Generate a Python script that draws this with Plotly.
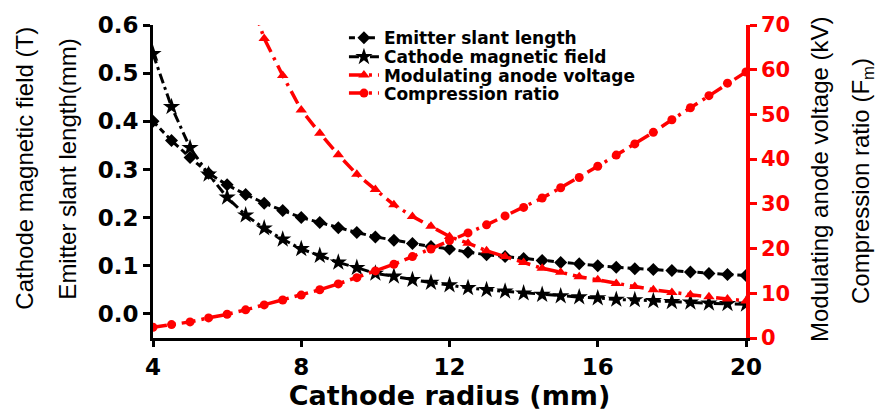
import plotly.graph_objects as go

# Cathode radius (mm)
radius = [4.0, 4.5, 5.0, 5.5, 6.0, 6.5, 7.0, 7.5, 8.0, 8.5, 9.0, 9.5, 10.0, 10.5,
          11.0, 11.5, 12.0, 12.5, 13.0, 13.5, 14.0, 14.5, 15.0, 15.5, 16.0, 16.5,
          17.0, 17.5, 18.0, 18.5, 19.0, 19.5, 20.0]

# Emitter slant length (mm)
slant_length = [0.400, 0.360, 0.325, 0.292, 0.268, 0.248, 0.230, 0.215, 0.200, 0.190,
                0.179, 0.169, 0.160, 0.153, 0.146, 0.140, 0.135, 0.128, 0.123, 0.119,
                0.115, 0.111, 0.107, 0.104, 0.100, 0.097, 0.094, 0.092, 0.090, 0.087,
                0.084, 0.082, 0.080]

# Cathode magnetic field (T)
magnetic_field = [0.540, 0.430, 0.345, 0.290, 0.242, 0.205, 0.178, 0.155, 0.135, 0.121,
                  0.107, 0.096, 0.084, 0.078, 0.071, 0.065, 0.060, 0.054, 0.050, 0.047,
                  0.043, 0.040, 0.037, 0.035, 0.033, 0.030, 0.029, 0.027, 0.025, 0.024,
                  0.022, 0.021, 0.020]

# Modulating anode voltage (kV), from 6.5 mm upward
radius_voltage = radius[5:]
anode_voltage = [79.0, 67.0, 58.7, 51.0, 45.8, 41.0, 36.6, 33.2, 29.8, 27.2, 25.0, 22.7,
                 21.2, 19.5, 18.2, 16.9, 15.6, 14.7, 13.7, 13.0, 12.2, 11.5, 10.8, 10.2,
                 9.7, 9.2, 8.7, 8.3]

# Compression ratio (Fm)
compression = [2.4, 3.0, 3.6, 4.5, 5.3, 6.3, 7.4, 8.5, 9.6, 10.8, 12.1, 13.5, 15.0, 16.5,
               18.2, 19.9, 21.8, 23.5, 25.3, 27.3, 29.2, 31.3, 33.6, 35.9, 38.4, 40.9,
               43.4, 46.0, 48.8, 51.5, 54.2, 57.0, 59.5]

x_ticks = [4, 8, 12, 16, 20]
left_ticks = [0.0, 0.1, 0.2, 0.3, 0.4, 0.5, 0.6]
right_ticks = [0, 10, 20, 30, 40, 50, 60, 70]

RED = "#ff0000"
BOLD = "DejaVu Sans"
PLAIN = "Liberation Sans, Arial, sans-serif"

fig = go.Figure()

fig.add_trace(go.Scatter(
    x=radius, y=slant_length, name="Emitter slant length", mode="lines+markers",
    line=dict(color="black", width=3, dash="6px,4px"),
    marker=dict(symbol="diamond", size=10, color="black"),
    yaxis="y", legend="legend",
))
fig.add_trace(go.Scatter(
    x=radius, y=magnetic_field, name="Cathode magnetic field", mode="lines+markers",
    line=dict(color="black", width=3, dash="10px,4px,3px,4px"),
    marker=dict(symbol="star", size=13, color="black"),
    yaxis="y", legend="legend2",
))
fig.add_trace(go.Scatter(
    x=radius_voltage, y=anode_voltage, name="Modulating anode voltage", mode="lines+markers",
    line=dict(color=RED, width=3.5, dash="14px,6px,3px,6px"),
    marker=dict(symbol="triangle-up", size=10, color=RED),
    yaxis="y2", legend="legend3",
))
fig.add_trace(go.Scatter(
    x=radius, y=compression, name="Compression ratio", mode="lines+markers",
    line=dict(color=RED, width=3.5, dash="14px,6px,3px,6px"),
    marker=dict(symbol="circle", size=9, color=RED),
    yaxis="y2", legend="legend4",
))


def legend_row(y_paper):
    return dict(
        x=0.322, y=y_paper, xanchor="left", yanchor="middle",
        bgcolor="rgba(0,0,0,0)", borderwidth=0,
        font=dict(family=BOLD, size=17, color="black", weight="bold"),
        itemwidth=30,
    )


fig.update_layout(
    width=880, height=412,
    margin=dict(l=153, r=134, t=21, b=64),
    paper_bgcolor="white", plot_bgcolor="white",
    showlegend=True,
    legend=legend_row(0.958),
    legend2=legend_row(0.897),
    legend3=legend_row(0.839),
    legend4=legend_row(0.781),
    xaxis=dict(
        range=[4, 20], tickvals=x_ticks, ticktext=[str(v) for v in x_ticks],
        showgrid=False, zeroline=False,
        showline=True, linecolor="black", linewidth=3,
        ticks="outside", ticklen=6, tickwidth=3, tickcolor="black",
        tickfont=dict(family=BOLD, size=23, color="black", weight="bold"),
        title=dict(text="Cathode radius (mm)", standoff=2,
                   font=dict(family=BOLD, size=27, color="black", weight="bold")),
    ),
    xaxis2=dict(
        range=[4, 20], tickvals=x_ticks, overlaying="x", side="top", anchor="y",
        showgrid=False, zeroline=False, showticklabels=False,
        showline=True, linecolor="black", linewidth=3,
        ticks="inside", ticklen=5, tickwidth=3, tickcolor="black",
    ),
    yaxis=dict(
        range=[-0.05, 0.6], tickvals=left_ticks,
        ticktext=[f"{v:.1f}" for v in left_ticks],
        showgrid=False, zeroline=False,
        showline=True, linecolor="black", linewidth=3,
        ticks="outside", ticklen=7, tickwidth=3, tickcolor="black",
        tickfont=dict(family=BOLD, size=23, color="black", weight="bold"),
    ),
    yaxis2=dict(
        range=[0, 70], tickvals=right_ticks, overlaying="y", side="right", anchor="x",
        showgrid=False, zeroline=False,
        showline=True, linecolor=RED, linewidth=3.5,
        ticks="outside", ticklen=7, tickwidth=3, tickcolor=RED,
        tickfont=dict(family=BOLD, size=21, color=RED, weight="bold"),
    ),
)

# Two-line axis titles on each side
titles = [
    ("Cathode magnetic field (T)", -0.216, 0.544),
    ("Emitter slant length(mm)", -0.1433, 0.538),
    ("Modulating anode voltage (kV)", 1.1248, 0.508),
    ("Compression ratio (F<sub>m</sub>)", 1.1956, 0.5015),
]
for text, xp, yp in titles:
    fig.add_annotation(
        text=text, xref="paper", yref="paper", x=xp, y=yp,
        xanchor="center", yanchor="middle", textangle=-90, showarrow=False,
        font=dict(family=PLAIN, size=24, color="black"),
    )

fig.write_html("out.html")
